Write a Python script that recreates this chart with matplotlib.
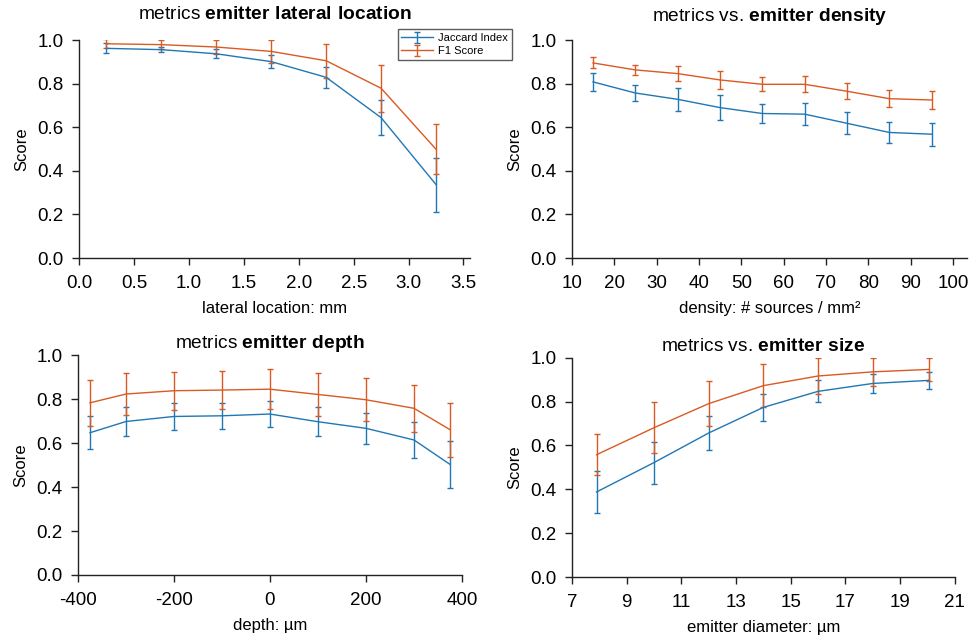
import numpy as np
import matplotlib
matplotlib.use("Agg")
import matplotlib.pyplot as plt

plt.rcParams["font.family"] = ["Liberation Sans", "DejaVu Sans"]
plt.rcParams["mathtext.fontset"] = "custom"
plt.rcParams["mathtext.rm"] = "Liberation Sans"
plt.rcParams["mathtext.bf"] = "Liberation Sans:bold"
plt.rcParams["axes.unicode_minus"] = False

BLUE = "#2077b4"
ORANGE = "#d95a22"

# lateral location (mm)
lat_x = [0.25, 0.75, 1.25, 1.75, 2.25, 2.75, 3.25]
lat_jac = [0.962, 0.956, 0.937, 0.901, 0.829, 0.644, 0.337]
lat_jac_err = [0.023, 0.012, 0.02, 0.03, 0.047, 0.08, 0.124]
lat_f1 = [0.983, 0.979, 0.968, 0.948, 0.905, 0.779, 0.499]
lat_f1_err = [0.02, 0.02, 0.03, 0.052, 0.078, 0.107, 0.115]

# density (# sources / mm^2)
den_x = [15, 25, 35, 45, 55, 65, 75, 85, 95]
den_jac = [0.808, 0.757, 0.728, 0.69, 0.663, 0.66, 0.618, 0.576, 0.568]
den_jac_err = [0.04, 0.038, 0.054, 0.057, 0.044, 0.05, 0.05, 0.049, 0.053]
den_f1 = [0.895, 0.863, 0.846, 0.817, 0.797, 0.797, 0.765, 0.731, 0.725]
den_f1_err = [0.025, 0.024, 0.035, 0.04, 0.032, 0.037, 0.036, 0.039, 0.043]

# depth (um)
dep_x = [-375, -300, -200, -100, 0, 100, 200, 300, 375]
dep_jac = [0.647, 0.698, 0.721, 0.724, 0.732, 0.697, 0.667, 0.614, 0.503]
dep_jac_err = [0.076, 0.067, 0.06, 0.059, 0.06, 0.066, 0.071, 0.082, 0.108]
dep_f1 = [0.783, 0.823, 0.838, 0.841, 0.845, 0.821, 0.797, 0.758, 0.661]
dep_f1_err = [0.104, 0.095, 0.087, 0.088, 0.09, 0.096, 0.097, 0.107, 0.123]

# emitter diameter (um)
siz_x = [7.9, 10, 12, 14, 16, 18, 20.05]
siz_jac = [0.388, 0.522, 0.657, 0.774, 0.847, 0.883, 0.897]
siz_jac_err = [0.095, 0.096, 0.076, 0.063, 0.05, 0.045, 0.04]
siz_f1 = [0.558, 0.681, 0.791, 0.873, 0.917, 0.936, 0.947]
siz_f1_err = [0.093, 0.117, 0.104, 0.099, 0.083, 0.064, 0.053]


def panel(ax, x, jac, jac_err, f1, f1_err, title, xlabel, xlim, xticks,
          xticklabels=None, title_pad=10):
    ax.errorbar(x, jac, yerr=jac_err, color=BLUE, lw=1.0, elinewidth=1.0,
                capsize=2, capthick=1.0, label="Jaccard Index")
    ax.errorbar(x, f1, yerr=f1_err, color=ORANGE, lw=1.0, elinewidth=1.0,
                capsize=2, capthick=1.0, label="F1 Score")
    ax.set_xlim(*xlim)
    ax.set_ylim(0, 1.0)
    ax.set_xticks(xticks)
    if xticklabels is not None:
        ax.set_xticklabels(xticklabels)
    ax.set_yticks([0, 0.2, 0.4, 0.6, 0.8, 1.0])
    ax.set_yticklabels(["0.0", "0.2", "0.4", "0.6", "0.8", "1.0"])
    for s in ("top", "right"):
        ax.spines[s].set_visible(False)
    for s in ("left", "bottom"):
        ax.spines[s].set_linewidth(1.0)
        ax.spines[s].set_color("#222222")
    ax.tick_params(direction="out", length=5, width=1.0, labelsize=13.5,
                   color="#222222")
    ax.tick_params(axis="x", pad=7)
    ax.tick_params(axis="y", pad=6)
    ax.set_xlabel(xlabel, fontsize=12, labelpad=7)
    ax.set_ylabel("Score", fontsize=12, labelpad=6)
    ax.set_title(title, fontsize=13.8, pad=title_pad)


fig = plt.figure(figsize=(9.71, 6.41), dpi=100)
ax1 = fig.add_axes([0.0814, 0.5975, 0.4027, 0.340])
ax2 = fig.add_axes([0.589, 0.5975, 0.4068, 0.340])
ax3 = fig.add_axes([0.0803, 0.103, 0.3955, 0.343])
ax4 = fig.add_axes([0.589, 0.0998, 0.3944, 0.342])

panel(ax1, lat_x, lat_jac, lat_jac_err, lat_f1, lat_f1_err,
      r"metrics $\mathbf{emitter\ lateral\ location}$", "lateral location: mm",
      (0, 3.56), [0, 0.5, 1.0, 1.5, 2.0, 2.5, 3.0, 3.5],
      ["0.0", "0.5", "1.0", "1.5", "2.0", "2.5", "3.0", "3.5"], title_pad=15)
panel(ax2, den_x, den_jac, den_jac_err, den_f1, den_f1_err,
      r"metrics vs. $\mathbf{emitter\ density}$", "density: # sources / mm²",
      (10, 103.3), list(range(10, 101, 10)), title_pad=14)
panel(ax3, dep_x, dep_jac, dep_jac_err, dep_f1, dep_f1_err,
      r"metrics $\mathbf{emitter\ depth}$", "depth: µm",
      (-400, 400), [-400, -200, 0, 200, 400], title_pad=5)
panel(ax4, siz_x, siz_jac, siz_jac_err, siz_f1, siz_f1_err,
      r"metrics vs. $\mathbf{emitter\ size}$", "emitter diameter: µm",
      (7, 21), list(range(7, 22, 2)), title_pad=5)

leg = ax1.legend(loc="upper right", bbox_to_anchor=(1.107, 1.05), fontsize=8,
                 frameon=True, fancybox=False, edgecolor="#333333",
                 handlelength=2.8, handletextpad=0.5, borderpad=0.35,
                 labelspacing=0.3, borderaxespad=0)
leg.get_frame().set_linewidth(1.0)

fig.savefig("out.png", dpi=100)
